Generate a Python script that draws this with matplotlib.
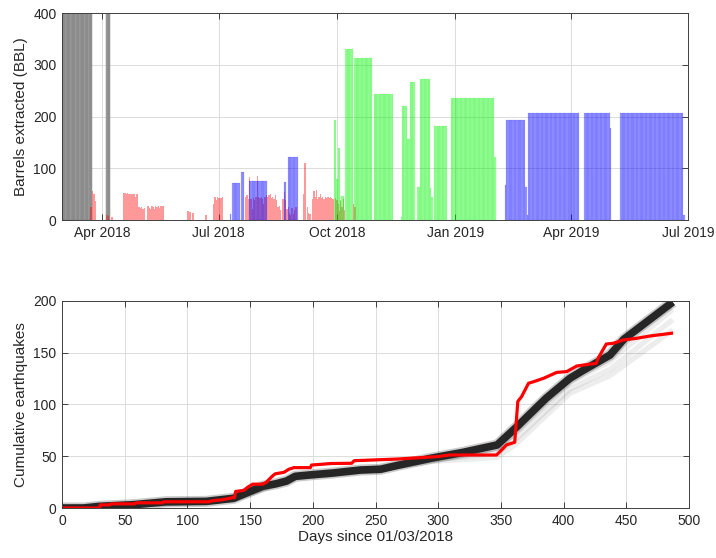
import numpy as np
import matplotlib
matplotlib.use('Agg')
import matplotlib.pyplot as plt
import matplotlib.dates as mdates

plt.rcParams['font.family'] = ['Liberation Sans', 'DejaVu Sans']

# ---- top panel: barrels per day, day index = days since 01/03/2018 ----
# constant runs (start day, end day, value)
gray_start = [0, 35]
gray_end = [23, 37]
gray_val = [600, 600]  # goes off the top of the axis

green_start = [212, 214, 215, 217, 218, 221, 228, 243, 264, 265, 269, 271, 277, 279, 287, 288, 290, 303, 337]
green_end = [213, 214, 216, 217, 219, 226, 241, 257, 264, 268, 270, 274, 278, 286, 287, 288, 299, 336, 337]
green_val = [193, 80, 140, 38, 46, 330, 314, 243, 5, 220, 156, 266, 64, 273, 61, 45, 182, 236, 122]

blue_start = [131, 133, 140, 146, 173, 176, 345, 346, 361, 362, 363, 407, 427, 435, 484]
blue_end = [131, 138, 141, 159, 174, 183, 345, 360, 361, 362, 402, 426, 427, 483, 484]
blue_val = [12, 72, 92, 75, 74, 121, 68, 193, 63, 10, 206, 206, 177, 207, 10]

# the red well varies day to day
red_days = [22, 23, 24, 25, 26, 35, 36, 39,
            48, 49, 50, 51, 52, 53, 54, 55, 56, 57, 58, 59, 60, 61, 62, 63, 64,
            67, 68, 69, 70, 71, 72, 73, 74, 75, 76, 77, 78, 79,
            98, 99, 100, 102, 112,
            118, 119, 120, 121, 122, 123, 124, 125,
            143, 144, 145, 146, 147, 148, 149, 150, 151, 152, 153, 154, 155, 156, 157,
            158, 159, 160, 161, 162, 163, 164, 165, 166, 167, 168, 169, 170,
            172, 173, 174, 175, 176, 177, 178, 179, 180, 181, 182,
            188, 189, 191, 192, 193,
            195, 196, 197, 198, 199, 200, 201, 202, 203, 204, 205, 206, 207, 208, 209, 210, 211,
            213, 214, 215, 216, 217, 218, 219, 220, 227, 228]
red_vals = [25, 25, 57, 50, 36, 10, 8, 6,
            52, 53, 51, 52, 50, 51, 51, 50, 51, 44, 51, 50, 26, 24, 26, 22, 24,
            28, 24, 22, 28, 26, 22, 28, 26, 27, 24, 27, 28, 28,
            17, 16, 15, 13, 10,
            30, 44, 38, 44, 42, 43, 42, 44,
            45, 48, 40, 84, 40, 22, 42, 38, 45, 85, 44, 42, 45, 40, 30,
            44, 48, 45, 49, 51, 42, 45, 40, 48, 38, 26, 28, 20,
            40, 55, 38, 22, 25, 14, 10, 24, 12, 20, 25,
            50, 110, 26, 14, 12,
            40, 56, 45, 58, 40, 45, 50, 42, 45, 40, 45, 43, 44, 42, 44, 43, 40,
            42, 38, 30, 18, 36, 25, 40, 20, 30, 25]

# ---- bottom panel: cumulative earthquakes ----
obs_day = [0, 30, 30.5, 38, 39, 58, 59, 80, 81, 117, 120, 128, 136, 137.5, 138.5, 145, 148, 152, 160, 163,
           167, 170, 177, 181, 185, 198, 199, 215, 231, 233, 240, 267, 299, 309, 346.5, 350.5, 354.5, 361, 363.5, 366.5,
           372, 376, 384, 394.5, 402.5, 410.5, 426, 427.5, 434, 439.5, 447.5, 458, 469, 486]
obs_count = [0, 0, 3, 3, 4, 4, 5, 5, 6, 6, 7, 8, 10, 10, 16, 17, 20, 23, 23, 25,
             30, 33, 34.5, 37.5, 39, 39, 41.5, 43, 43.2, 45.7, 46, 47.3, 49.6, 51.2, 51.2, 56, 61, 63.5, 103, 107.6,
             120.5, 122, 125.3, 131, 131.8, 137.2, 139.8, 144.6, 158.4, 159.1, 162.3, 163.9, 166.2, 168.8]

sim_day = [0, 17, 30, 57, 83, 115, 137, 150, 160, 171, 179, 186, 200, 216, 238, 254, 267, 294, 320, 347,
           363, 386, 405, 416, 437, 448, 487]
sim_mid = [0, 0, 1.6, 3.2, 6, 6.4, 9.4, 16, 21, 23.5, 26, 30.6, 32.2, 33.8, 36.7, 37.4, 41, 48, 53.8, 60.9,
           78.8, 106, 125.3, 133.3, 147.8, 163, 199]

fan_day = [0, 30, 115, 137, 186, 238, 294, 347, 363, 405, 437, 487]
fan_curves = [
    [0, 1.4, 6.3, 9.0, 30.3, 36.3, 47.0, 57.5, 74, 121, 142, 192],
    [0, 1.2, 6.2, 8.6, 29.8, 35.8, 46.0, 53.0, 68, 115, 134, 182],
    [0, 1.0, 6.0, 8.0, 29.0, 35.0, 45.0, 49.0, 63, 111, 128, 172],
]


def expand(starts, ends, vals):
    days, out = [], []
    for s, e, v in zip(starts, ends, vals):
        for d in range(s, e + 1):
            days.append(d)
            out.append(v)
    return days, out


def to_date(days):
    return np.datetime64('2018-03-01') + np.array(days).astype('timedelta64[D]')


def style_axes(ax):
    ax.grid(True, color='#dcdcdc', linewidth=0.7)
    ax.set_axisbelow(True)
    ax.tick_params(direction='in', top=True, right=True, length=4, width=0.6,
                   labelsize=10, colors='#262626', pad=4)
    for sp in ax.spines.values():
        sp.set_linewidth(0.7)
        sp.set_color('#404040')


fig = plt.figure(figsize=(7.16, 5.58), dpi=100)
ax1 = fig.add_axes([0.0866, 0.6057, 0.874, 0.371])
ax2 = fig.add_axes([0.0866, 0.0896, 0.8757, 0.371])

gd, gv = expand(gray_start, gray_end, gray_val)
ax1.bar(to_date(gd), gv, width=1, color='#a0a0a0', edgecolor='#7a7a7a', linewidth=0.3)
ax1.bar(to_date(red_days), red_vals, width=1, color='r', alpha=0.4, edgecolor='none')
bd, bv = expand(blue_start, blue_end, blue_val)
ax1.bar(to_date(bd), bv, width=1, color='b', alpha=0.4, edgecolor='b', linewidth=0.15)
gnd, gnv = expand(green_start, green_end, green_val)
ax1.bar(to_date(gnd), gnv, width=1, color='#00ff00', alpha=0.4, edgecolor='#22dd22', linewidth=0.15)

ax1.set_xlim(np.datetime64('2018-03-01'), np.datetime64('2019-07-01'))
ax1.set_ylim(0, 400)
ax1.set_yticks([0, 100, 200, 300, 400])
ax1.xaxis.set_major_locator(mdates.MonthLocator(bymonth=[1, 4, 7, 10]))
ax1.xaxis.set_major_formatter(mdates.DateFormatter('%b %Y'))
ax1.set_ylabel('Barrels extracted (BBL)', fontsize=11, color='#262626')
style_axes(ax1)

for fc in fan_curves:
    ax2.plot(fan_day, fc, color='k', alpha=0.07, linewidth=4, solid_capstyle='butt')
ax2.plot(sim_day, sim_mid, color='k', alpha=0.2, linewidth=8, solid_capstyle='butt')
ax2.plot(sim_day, sim_mid, color='#262626', linewidth=5.5, solid_capstyle='butt')
ax2.plot(obs_day, obs_count, color='r', linewidth=2.3)

ax2.set_xlim(0, 500)
ax2.set_ylim(0, 200)
ax2.set_xticks(np.arange(0, 501, 50))
ax2.set_yticks([0, 50, 100, 150, 200])
ax2.set_xlabel('Days since 01/03/2018', fontsize=11, color='#262626', labelpad=2)
ax2.set_ylabel('Cumulative earthquakes', fontsize=11, color='#262626')
style_axes(ax2)

fig.savefig('out.png', dpi=100)
